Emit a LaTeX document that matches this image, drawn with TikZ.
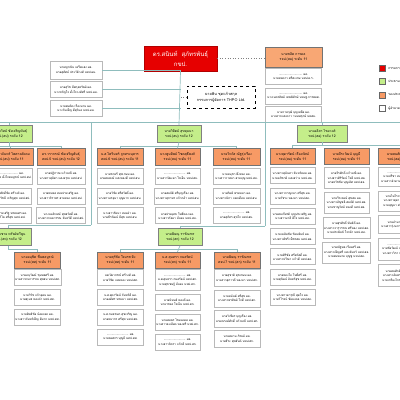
\documentclass[tikz,border=0pt]{standalone}
\usepackage{fontspec}
\setmainfont[Script=Thai]{Loma}
\usepackage{xcolor}
\usetikzlibrary{positioning,calc}

\definecolor{chiefred}{HTML}{E60000}
\definecolor{headgreen}{HTML}{C4EE8A}
\definecolor{deporange}{HTML}{F79A65}
\definecolor{secorange}{HTML}{F8A774}
\definecolor{linkc}{HTML}{8FBDBD}

\newcommand{\boxfont}{\fontsize{3}{4.5}\selectfont}
\newcommand{\headfont}{\fontsize{3.4}{5.2}\selectfont}

\begin{document}
\begin{tikzpicture}[
  x=1pt, y=-1pt,
  chief/.style={rectangle, draw=red!70!black, fill=chiefred, text=white, minimum width=73pt, minimum height=25pt, align=center, font=\fontsize{6}{10}\selectfont, inner sep=1pt},
  head/.style={rectangle, draw=gray, fill=headgreen, minimum width=46pt, minimum height=17pt, align=center, font=\headfont, inner sep=1pt},
  deputy/.style={rectangle, draw=gray!90!black, fill=deporange, minimum width=46pt, minimum height=17pt, align=center, font=\headfont, inner sep=1pt},
  staff/.style={rectangle, draw=gray!55, line width=0.8pt, fill=white, minimum width=46pt, minimum height=16pt, align=center, font=\boxfont, inner sep=1pt},
  link/.style={draw=linkc, line width=0.7pt},
  legbox/.style={rectangle, draw=gray!80!black, minimum size=6pt, inner sep=0pt},
  legtext/.style={font=\fontsize{3.2}{4}\selectfont, inner sep=0pt, anchor=west}
]
\useasboundingbox (0,0) rectangle (400,400);

% top level
\node[chief] (chief) at (180.5,58.5) {ดร.สนินท์\ \ สุภัทรพันธุ์\\กขป.};

\node[deputy, fill=secorange, minimum width=57pt, minimum height=20pt] (sec) at (293.5,57) {นายชลิต การดล\\รจป.(สม) ระดับ 11};
\node[staff, minimum width=56pt, below=1pt of sec] (sec1) {............................ ผอ.\\นายทอดาว ศรีสะเกษ นทป.ด.ร.};
\node[staff, minimum width=56pt, below=2.5pt of sec1] (sec2) {............................ ผอ.\\นางเนตรทิพย์ เทพพิทักษ์ นทมฐ.การพยส.};
\node[staff, minimum width=56pt, below=2pt of sec2] (sec3) {นายวาลวุฒิ บุญเหลือ ผอ.\\นางสาวแสงดาว วนนพฤกษ์ นทสม.};
\draw[dotted, gray, line width=0.6pt] (chief.east) -- (chief.east -| sec.west);

\node[staff, minimum width=52pt, minimum height=18pt] (adv1) at (76,70) {นายญาณิน เครือแสง ผอ.\\นายสุทัศน์ ประวัติวงศ์ นทป.ผม.};
\node[staff, minimum width=52pt, below=2pt of adv1] (adv2) {นายสุวิช มีสกุลทรัพย์ ผอ.\\นางขวัญใจ ตั้งใจวงศ์ศรี นทป.ผม.};
\node[staff, minimum width=52pt, below=2pt of adv2] (adv3) {นายสมคิด เรืองนาม ผอ.\\นางวันเพ็ญ ดีสุวิมล นทป.ผม.};
\draw[link] (adv1.east) -- (adv1.east -| chief.south);
\draw[link] (adv2.east) -- (adv2.east -| chief.south);
\draw[link] (adv3.east) -- (adv3.east -| chief.south);

\node[draw, dashed, line width=0.9pt, minimum width=68pt, minimum height=22pt, align=center, font=\fontsize{3.8}{6}\selectfont] (audit) at (221,97) {นายพิน ชุดแก้วสกุล\\กรรมการผู้จัดการ THPO Ltd.};
\draw[dotted, gray, line width=0.6pt] (audit.west) -- (audit.west -| chief.south);

% main bus
\coordinate (busW) at (-10,122);
\coordinate (busE) at (410,122);
\coordinate (spL) at (91,122);
\coordinate (spLb) at (91,225);
\coordinate (spR) at (265,122);
\coordinate (spRb) at (265,226);
\draw[link] (busW) -- (busE);

% second level
\node[head] (gL) at (9,133.5) {นายวรวิทย์ ชัยเจริญพันธุ์\\รจป.(สป) ระดับ 12};
\node[head, minimum width=44pt] (gM) at (179,133.5) {นายวิทิตย์ สุขทุมนา\\รจป.(สบ) ระดับ 12};
\node[head, minimum width=50pt] (gR) at (322,133.5) {นางอลิสา ไชยวงศ์\\รจป.(สอ) ระดับ 12};
\draw[link] (chief.south) -- (gM.north);
\draw[link] (gL.north) -- (gL.north |- busW);
\draw[link] (gR.north) -- (gR.north |- busW);

% third level
\coordinate (busL) at (0,146);
\coordinate (busM) at (0,146.5);
\coordinate (busR) at (0,145);
\node[deputy] (oA) at (10,157) {นางสาวจันทร์ ไพศาลสังคม\\รจป.(สป) ระดับ 11};
\node[deputy, minimum width=48pt] (oB) at (61,157) {ดร.วรากรณ์ ชัยเจริญพันธุ์\\สจป.5 รจป.(สป) ระดับ 12};
\node[deputy] (oC) at (120,157) {น.ส.ไพรินทร์ ถูกทรงนุสาร\\สจป.6 รจป.(สบ) ระดับ 11};
\node[deputy, minimum width=45pt] (oD) at (177.5,157) {นางพูนทิพย์ โชคสุธีพงศ์\\รจป.(สบ) ระดับ 11};
\node[deputy, minimum width=47pt] (oE) at (236.5,157) {นายวิทวัส ณัฐรุ่งเรือง\\รจป.(สบ) ระดับ 11};
\node[deputy, minimum width=45pt, minimum height=16pt] (oF) at (292.5,156.5) {นางสุดารัตน์ เรืองทัศน์\\รจป.(สอ) ระดับ 11};
\node[deputy, minimum width=45pt, minimum height=16pt] (oG) at (346.5,156.5) {นายจีระวัฒน์ บุญมี\\รจป.(สอ) ระดับ 11};
\node[deputy, minimum width=46pt, minimum height=16pt] (oH) at (401,156.5) {นายสมศักดิ์ ทองแท้\\รจป.(สอ) ระดับ 11};
\draw[link] (gL.south) -- (gL.south |- busL);
\draw[link] (busW |- busL) -| (oA.north);
\draw[link] (oA.north |- busL) -| (oB.north);
\draw[link] (oC.north) |- (busM -| oE.north) -- (oE.north);
\draw[link] (gM.south) -- (oD.north);
\draw[link] (oF.north) |- (busR -| oH.north) -- (oH.north);
\draw[link] (gR.south) -- (gR.south |- busR);

% staff under left group
\node[staff, minimum width=42pt, below=2pt of oA] (a1) {.......................... ผอ.\\นายสุรพล ตั้งใจสมบูรณ์ นทป.สป.};
\node[staff, minimum width=42pt, below=3pt of a1] (a2) {นายศักดิ์ชัย ศรีวงศ์ ผอ.\\นางสาวรัชนี เจริญสุข นทป.สป.};
\node[staff, minimum width=42pt, below=3pt of a2] (a3) {นายประเสริฐ พรหมศร ผอ.\\นางวิไล ศรีสุข นทป.สป.};
\node[staff, minimum width=48pt, below=2pt of oB] (b1) {นายปฏิภาณ แก้วมณี ผอ.\\นางสาวสุนิสา แสงอรุณ นทป.สป.};
\node[staff, minimum width=48pt, below=3pt of b1] (b2) {นายธนพล ทองประเสริฐ ผอ.\\นางสาวจิราพร สายทอง นทป.สป.};
\node[staff, minimum width=48pt, below=3pt of b2] (b3) {นางนงลักษณ์ สุขสวัสดิ์ ผอ.\\นางสาวกมลวรรณ จันทร์ดี นทป.สป.};

% staff under middle group
\node[staff, below=2pt of oC] (c1) {นายชาตรี สุขเกษม ผอ.\\นายสมพงษ์ แสงทองดี นทป.สบ.};
\node[staff, below=3pt of c1] (c2) {นายวิชัย ศรีสวัสดิ์ ผอ.\\นางสาวอรอุมา บุญมาก นทป.สบ.};
\node[staff, below=3pt of c2] (c3) {นางสาวรัตนา ทองคำ ผอ.\\นายธีรวัฒน์ มีสุข นทป.สบ.};
\node[staff, minimum width=45pt, below=2pt of oD] (d1) {.......................... ผอ.\\นางสาวปิยะดา ใจเย็น นทป.สบ.};
\node[staff, minimum width=45pt, below=3pt of d1] (d2) {นายสมบัติ ศรีบุญเรือง ผอ.\\นางสาวสุภาพร แก้วกล้า นทป.สบ.};
\node[staff, minimum width=45pt, below=3pt of d2] (d3) {นายประยุทธ โพธิ์ทอง ผอ.\\นางสาวกัลยา มั่นคง นทป.สบ.};
\node[staff, minimum width=47pt, below=2pt of oE] (e1) {นายอนุชา พึ่งทอง ผอ.\\นางสาววาสนา สายบุญ นทป.สบ.};
\node[staff, minimum width=47pt, below=3pt of e1] (e2) {นายกิตติ พรหมมา ผอ.\\นางสาวนิภา แสงเดือน นทป.สบ.};
\node[staff, minimum width=47pt, below=3pt of e2] (e3) {.......................... ผอ.\\นายสุภัทร สุขใจ นทป.สบ.};

% staff under right group
\node[staff, minimum width=45pt, below=2.5pt of oF] (f1) {นางสาวสุนันทา จันทร์หอม ผอ.\\นายอภิชาติ แสงสว่าง นทป.สอ.};
\node[staff, minimum width=45pt, below=3.5pt of f1] (f2) {นางสาวกาญจนา ศรีสุข ผอ.\\นายวัชระ ทองมา นทป.สอ.};
\node[staff, minimum width=45pt, below=3.5pt of f2] (f3) {นายสมเกียรติ บุญประเสริฐ ผอ.\\นางสาวมาลี ดีใจ นทป.สอ.};
\node[staff, minimum width=45pt, below=3.5pt of f3] (f4) {นายเฉลิมชัย รัตนพันธ์ ผอ.\\นางสาวพัชรี เพ็ชรสม นทป.สอ.};
\node[staff, minimum width=45pt, below=3.5pt of f4] (f5) {นายศิริชัย ศรีสวัสดิ์ ผอ.\\นางสาวปวีณา แก้วดี นทป.สอ.};
\node[staff, minimum width=45pt, below=3.5pt of f5] (f6) {นายทองใบ โพธิ์ศรี ผอ.\\นายสุวัฒน์ อินทร์สุข นทป.สอ.};
\node[staff, minimum width=45pt, below=3.5pt of f6] (f7) {นางสาวดารุณี สุดใจ ผอ.\\นายวิโรจน์ ชัยมงคล นทป.สอ.};
\node[staff, minimum width=45pt, minimum height=21pt, below=2.5pt of oG] (g1) {นายจีรศักดิ์ แก้วมณี ผอ.\\นางสาวศิริรัตน์ ใจดี นทป.สอ.\\นายธวัชชัย บุญเลิศ นทป.สอ.};
\node[staff, minimum width=45pt, minimum height=21pt, below=3pt of g1] (g2) {นายวีระพงษ์ สุขสม ผอ.\\นางสาวอัญชลี สมบัติ นทป.สอ.\\นายชาญวิทย์ ทองดี นทป.สอ.};
\node[staff, minimum width=45pt, minimum height=21pt, below=3pt of g2] (g3) {นายสุรศักดิ์ พันธ์ดี ผอ.\\นางสาวจารุวรรณ ศรีทอง นทป.สอ.\\นายประพันธ์ ใจกล้า นทป.สอ.};
\node[staff, minimum width=45pt, minimum height=21pt, below=3pt of g3] (g4) {นายณัฐพล เรืองศรี ผอ.\\นางสาวเพ็ญศรี แสงจันทร์ นทป.สอ.\\นายสมหมาย บุญชู นทป.สอ.};
\node[staff, below=2.5pt of oH, minimum height=19pt] (h1) {.......................... ผอ.\\นายปรีชา ทองสุข นทป.สอ.\\นางสาวลำดวน ศรีใส นทป.สอ.};
\node[staff, below=3.5pt of h1, minimum height=20pt] (h2) {นายไพโรจน์ ใจงาม ผอ.\\นางสาวสุดา มีชัย นทป.สอ.\\นายบุญมา ศรีวงศ์ นทป.สอ.};
\node[staff, below=4pt of h2, minimum height=18pt] (h3) {นายอำนาจ พลดี ผอ.\\นางสาวรุ่งนภา สมใจ นทป.สอ.};
\node[staff, below=4pt of h3, minimum height=22pt] (h4) {.......................... ผอ.\\นายชัยวัฒน์ แก้วใส นทป.สอ.\\นางสาววิภา บุญส่ง นทป.สอ.};
\node[staff, below=3pt of h4, minimum height=22pt] (h5) {นายสมศักดิ์ ทองแท้ ผอ.\\นางสาวอัมพร ใจดี นทป.สอ.\\นายเกรียงไกร สุขดี นทป.สอ.};

% lower branches
\draw[link] (spL) -- (spLb);
\draw[link] (spR) -- (spRb);
\coordinate (busBL) at (0,249);
\coordinate (busBM) at (0,249);
\node[head] (gBL) at (8,237) {นายสมชาย ทรัพย์ทวีพูน\\รจป.(สท) ระดับ 12};
\node[head, minimum width=44pt] (gBM) at (180,237) {นายพิษณุ ราชัณฑร\\รจป.(สก) ระดับ 12};
\draw[link] (spLb) -| (gBL.north);
\draw[link] (spRb) -| (gBM.north);

\node[deputy, minimum height=16pt] (oI) at (37.5,260) {นายอนุชิต ชื่นพลบูรณ์\\รจป.(สท) ระดับ 11};
\node[deputy, minimum height=16pt] (oJ) at (120.5,260) {นายสุรัชัย ใจบรรเทิง\\รจป.(สท) ระดับ 11};
\node[deputy, minimum width=45pt, minimum height=16pt] (oK) at (177.5,260) {น.ส.สุนทรา กมลรัตน์\\รจป.(สก) ระดับ 11};
\node[deputy, minimum height=16pt] (oL) at (237,260) {นายพิษณุ ราชัณฑร\\สจป.7 รจป.(สก) ระดับ 11};
\draw[link] (gBL.south) |- (busBL -| oI.north) -- (oI.north);
\draw[link] (oJ.north) |- (busBM -| oL.north) -- (oL.north);
\draw[link] (gBM.south) -- (oK.north);

\node[staff, below=1pt of oI] (i1) {นายอนุวัฒน์ ชุมพลศรี ผอ.\\นางสาวกนกวรรณ สุขสม นทป.สท.};
\node[staff, below=3pt of i1] (i2) {นายวิรัช แก้วอุดม ผอ.\\นายสุเมธ ทองคำ นทป.สท.};
\node[staff, below=3pt of i2] (i3) {นายสิทธิชัย น้อยแสง ผอ.\\นางสาวจันทร์เพ็ญ ดีมาก นทป.สท.};
\node[staff, below=1pt of oJ] (j1) {นส.ปิยาภรณ์ ศรีวงศ์ ผอ.\\นายวิชิต แสงทอง นทป.สท.};
\node[staff, below=3pt of j1] (j2) {น.ส.สุดารัตน์ จันทร์ดี ผอ.\\นายอดิศร พรมมา นทป.สท.};
\node[staff, below=3pt of j2] (j3) {น.ส.กมลชนก สุขเจริญ ผอ.\\นายธนากร ศรีสุข นทป.สท.};
\node[staff, below=3pt of j3] (j4) {.......................... ผอ.\\นายพงศกร บุญมี นทป.สท.};
\node[staff, minimum width=45pt, minimum height=21pt, below=1pt of oK] (k1) {.......................... ผอ.\\น.ส.สุนทรา กมลรัตน์ นทป.สก.\\นายสุรเชษฐ์ มั่นคง นทป.สก.};
\node[staff, minimum width=45pt, below=3pt of k1] (k2) {นายนิพนธ์ ทองดี ผอ.\\นายวรพล ใจเย็น นทป.สก.};
\node[staff, minimum width=45pt, below=3pt of k2] (k3) {นายสมพร ไชยมงคล ผอ.\\นางสาวละเอียด ทองศรี นทป.สก.};
\node[staff, minimum width=45pt, below=3pt of k3] (k4) {.......................... ผอ.\\นางสาวจิตรา แก้วดี นทป.สก.};
\node[staff, minimum height=17pt, below=1pt of oL] (l1) {นายสุชาติ สุขเกษม ผอ.\\นางสาวสุภาวดี ทองมา นทป.สก.};
\node[staff, minimum height=17pt, below=2.5pt of l1] (l2) {นายอนันต์ ศรีสุข ผอ.\\นางสาวพรทิพย์ ใจดี นทป.สก.};
\node[staff, minimum height=17pt, below=2.5pt of l2] (l3) {นายวิเชียร บุญเรือง ผอ.\\นายณรงค์ศักดิ์ แก้วมณี นทป.สก.};
\node[staff, minimum height=17pt, below=2.5pt of l3] (l4) {นายสมาน ภิรมย์ ผอ.\\นายธีระ สุขสันต์ นทป.สก.};

% legend
\node[legbox, fill=chiefred] (legR) at (382,68) {};
\node[legbox, fill=headgreen, below=7pt of legR] (legG) {};
\node[legbox, fill=deporange, below=7pt of legG] (legO) {};
\node[legbox, fill=white, below=7pt of legO] (legW) {};
\node[legtext, right=3pt of legR] (legRt) {กรรมการ กขป.};
\node[legtext, right=3pt of legG] (legGt) {ประธานอนุกรรมการ};
\node[legtext, right=3pt of legO] (legOt) {รองประธาน};
\node[legtext, right=3pt of legW] (legWt) {ผู้อำนวยการ};

\end{tikzpicture}
\end{document}
